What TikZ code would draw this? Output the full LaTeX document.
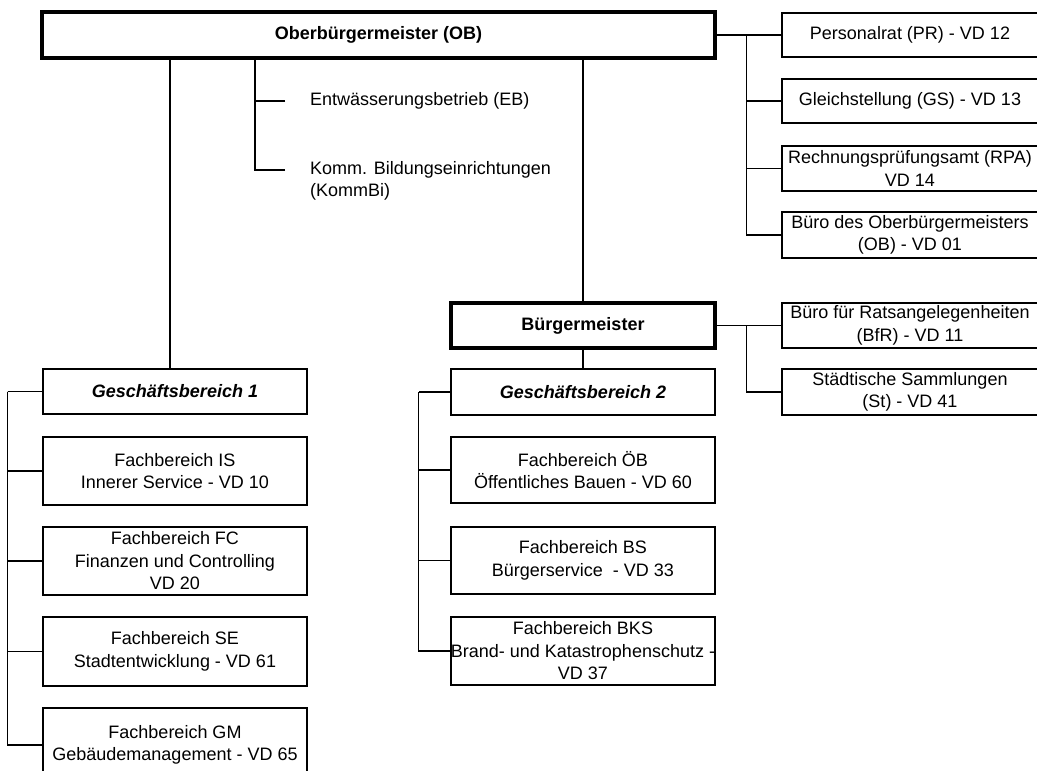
\documentclass[tikz,border=0pt]{standalone}
\usepackage{fontspec}
\setmainfont{Liberation Sans}

\begin{document}
\begin{tikzpicture}[
	x=1pt,y=-1pt,
	unit/.style={draw=black,line width=2.3pt,fill=white,inner sep=0pt,align=center,font=\fontsize{18}{22.5}\selectfont},
	head/.style={unit,line width=4.3pt,font=\fontsize{18}{22.5}\selectfont\bfseries},
	area/.style={unit,font=\fontsize{18}{22.5}\selectfont\bfseries\itshape},
	note/.style={inner sep=0pt,align=left,font=\fontsize{18}{22.5}\selectfont},
	link/.style={draw=black,line width=1.2pt}]
	\useasboundingbox (0,0) rectangle (1037,771);
	\clip (0,0) rectangle (1037,771);
	\node[head,minimum width=673pt,minimum height=46pt] (ob) at (378.5,35) {Oberbürgermeister (OB)};
	\node[note,anchor=west] (eb) at (310,101) {Entwässerungsbetrieb (EB)};
	\node[note,anchor=north west] (kb) at (310,161) {Komm. Bildungseinrichtungen\\(KommBi)};
	\node[unit,minimum width=256pt,minimum height=44pt] (pr) at (910,35) {Personalrat (PR) - VD 12};
	\node[unit,minimum width=256pt,minimum height=44pt] (gs) at (910,101) {Gleichstellung (GS) - VD 13};
	\node[unit,minimum width=256pt,minimum height=45pt] (rpa) at (910,168.5) {Rechnungsprüfungsamt (RPA)\\VD 14};
	\node[unit,minimum width=256pt,minimum height=46pt] (buero) at (910,235) {Büro des Oberbürgermeisters\\(OB) - VD 01};
	\node[head,minimum width=264pt,minimum height=45pt] (bm) at (583,325.5) {Bürgermeister};
	\node[unit,minimum width=256pt,minimum height=45pt] (bfr) at (910,325.5) {Büro für Ratsangelegenheiten\\(BfR) - VD 11};
	\node[unit,minimum width=256pt,minimum height=46pt] (st) at (910,392) {Städtische Sammlungen\\(St) - VD 41};
	\node[area,minimum width=264pt,minimum height=46pt] (gb2) at (583,392) {Geschäftsbereich 2};
	\node[unit,minimum width=264pt,minimum height=66pt] (oeb) at (583,470) {Fachbereich ÖB\\Öffentliches Bauen - VD 60};
	\node[unit,minimum width=264pt,minimum height=67pt] (bs) at (583,560.5) {Fachbereich BS\\Bürgerservice\ \ - VD 33};
	\node[unit,minimum width=264pt,minimum height=68pt] (bks) at (583,651) {Fachbereich BKS\\\makebox[264pt]{Brand- und Katastrophenschutz -}\\VD 37};
	\node[area,minimum width=264pt,minimum height=45pt] (gb1) at (175,391.5) {Geschäftsbereich 1};
	\node[unit,minimum width=264pt,minimum height=68pt] (is) at (175,471) {Fachbereich IS\\Innerer Service - VD 10};
	\node[unit,minimum width=264pt,minimum height=68pt] (fc) at (175,561) {Fachbereich FC\\Finanzen und Controlling\\VD 20};
	\node[unit,minimum width=264pt,minimum height=69pt] (se) at (175,651.5) {Fachbereich SE\\Stadtentwicklung - VD 61};
	\node[unit,minimum width=264pt,minimum height=74pt] (gm) at (175,745) {Fachbereich GM\\Gebäudemanagement - VD 65};
	\coordinate (gbtop) at ([xshift=-5pt]gb1.north);
	\coordinate (ebspine) at ([xshift=-55pt]eb.west);
	\draw[link] (gbtop) -- (gbtop |- ob.south);
	\draw[link] (bm.north) -- (bm.north |- ob.south);
	\draw[link] (bm) -- (gb2);
	\draw[link] ([xshift=-25pt]eb.west) -- (ebspine);
	\draw[link] ([xshift=-25pt,yshift=-9pt]kb.north west) -| (ebspine |- ob.south);
	\draw[link] (ob.east) -- (pr.west);
	\foreach \n in {gs,rpa,buero} \draw[link] ([xshift=-34pt]pr.west) |- (\n.west);
	\draw[link] (bm.east) -- (bfr.west);
	\draw[link] ([xshift=-34pt]bfr.west) |- (st.west);
	\draw[link] (gb1.west) -- ++(-34,0);
	\foreach \n in {is,fc,se,gm} \draw[link] ([xshift=-34pt]gb1.west) |- (\n.west);
	\draw[link] (gb2.west) -- ++(-31,0);
	\foreach \n in {oeb,bs,bks} \draw[link] ([xshift=-31pt]gb2.west) |- (\n.west);
\end{tikzpicture}
\end{document}
